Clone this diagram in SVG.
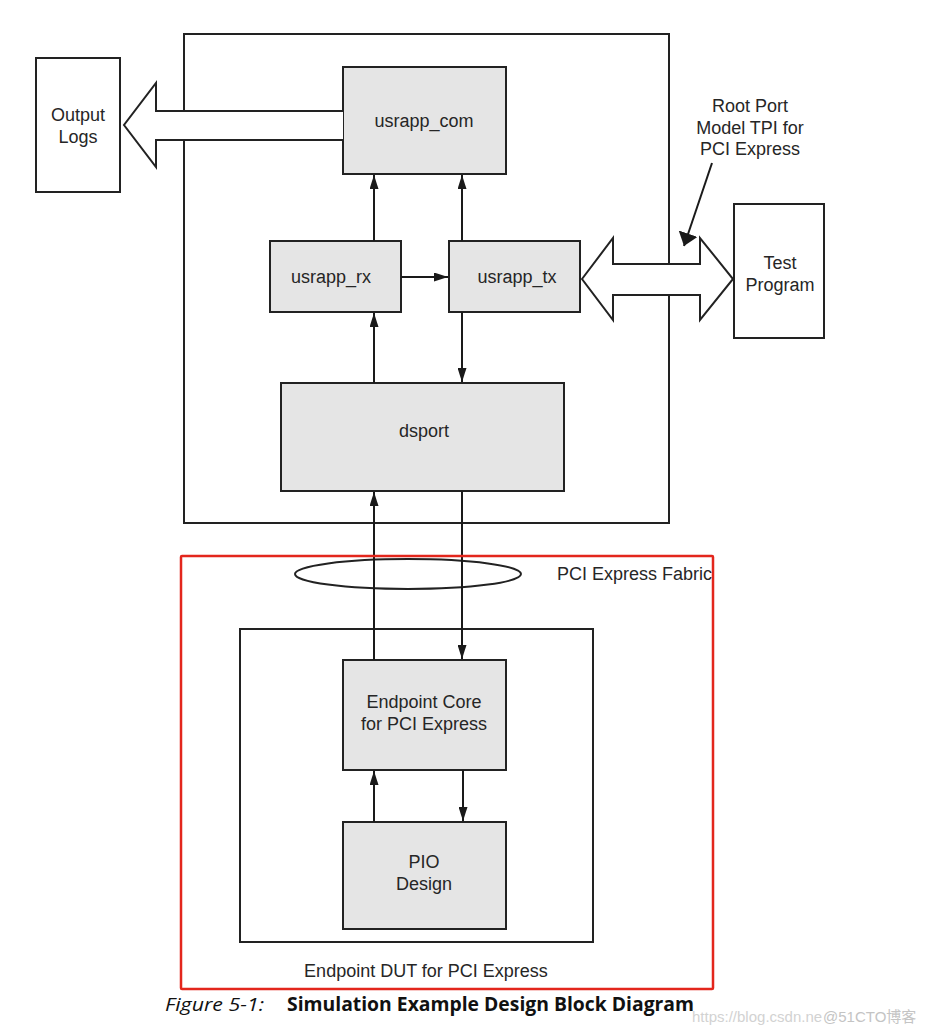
<svg xmlns="http://www.w3.org/2000/svg" width="932" height="1034" viewBox="0 0 932 1034">
<defs>
<marker id="ah" viewBox="0 0 10 10" refX="10" refY="5" markerWidth="14" markerHeight="9" markerUnits="userSpaceOnUse" orient="auto" preserveAspectRatio="none">
<path d="M0,0 L10,5 L0,10 Z" fill="#1a1a1a"/>
</marker>
<marker id="ah2" viewBox="0 0 10 10" refX="10" refY="5" markerWidth="13" markerHeight="20" markerUnits="userSpaceOnUse" orient="auto" preserveAspectRatio="none">
<path d="M0,0 L10,5 L0,10 Z" fill="#1a1a1a"/>
</marker>
<style>
.blk{fill:#e5e5e5;stroke:#222;stroke-width:2}
.box{fill:none;stroke:#222;stroke-width:2}
.wbox{fill:#fff;stroke:#222;stroke-width:2}
.t{font-family:"Liberation Sans",Arial,sans-serif;font-size:18px;fill:#262626;text-anchor:middle}
.tl{font-family:"Liberation Sans",Arial,sans-serif;font-size:18px;fill:#262626}
.ln{stroke:#1a1a1a;stroke-width:2;fill:none;marker-end:url(#ah)}
.big{fill:#fff;stroke:#222;stroke-width:2;stroke-linejoin:miter}
</style>
</defs>
<rect width="932" height="1034" fill="#fff"/>

<g id="root-port-model">
<rect class="box" x="184" y="34" width="485" height="489"/>
</g>

<g id="output-logs">
<rect class="wbox" x="36" y="58" width="84" height="134"/>
<text class="t" x="78" y="121">Output</text>
<text class="t" x="78" y="143">Logs</text>
</g>

<g id="test-program">
<rect class="wbox" x="734" y="204" width="90" height="134"/>
<text class="t" x="780" y="269">Test</text>
<text class="t" x="780" y="291">Program</text>
</g>

<g id="rp-label">
<text class="t" x="750" y="112">Root Port</text>
<text class="t" x="750" y="134">Model TPI for</text>
<text class="t" x="750" y="155">PCI Express</text>
</g>

<g id="usrapp_com">
<rect class="blk" x="343" y="67" width="163" height="107"/>
<text class="t" x="424" y="127">usrapp_com</text>
</g>

<g id="usrapp_rx">
<rect class="blk" x="270" y="241" width="131" height="71"/>
<text class="t" x="331" y="283">usrapp_rx</text>
</g>

<g id="usrapp_tx">
<rect class="blk" x="449" y="241" width="131" height="71"/>
<text class="t" x="517" y="283">usrapp_tx</text>
</g>

<g id="dsport">
<rect class="blk" x="281" y="383" width="283" height="108"/>
<text class="t" x="424" y="437">dsport</text>
</g>

<g id="fabric">
<ellipse cx="408" cy="574" rx="113" ry="15" fill="none" stroke="#222" stroke-width="2"/>
<text class="tl" x="557" y="580">PCI Express Fabric</text>
</g>

<g id="endpoint-dut">
<rect class="box" x="240" y="629" width="353" height="313"/>
<text class="t" x="426" y="977">Endpoint DUT for PCI Express</text>
</g>

<g id="endpoint-core">
<rect class="blk" x="343" y="660" width="163" height="110"/>
<text class="t" x="424" y="708">Endpoint Core</text>
<text class="t" x="424" y="730">for PCI Express</text>
</g>

<g id="pio-design">
<rect class="blk" x="343" y="822" width="163" height="107"/>
<text class="t" x="424" y="868">PIO</text>
<text class="t" x="424" y="890">Design</text>
</g>

<g id="connectors">
<path class="big" d="M343,111 L156,111 L156,83 L124,125 L156,167 L156,140 L343,140"/>
<path class="big" d="M582,279 L613,238 L613,264 L700,264 L700,238 L733,279 L700,320 L700,295 L613,295 L613,320 Z"/>
<line x1="712" y1="163" x2="684" y2="246" stroke="#1a1a1a" stroke-width="2" marker-end="url(#ah2)"/>
<line class="ln" x1="374" y1="241" x2="374" y2="175"/>
<line class="ln" x1="462" y1="241" x2="462" y2="175"/>
<line class="ln" x1="401" y1="277" x2="448" y2="277"/>
<line class="ln" x1="374" y1="383" x2="374" y2="313"/>
<line class="ln" x1="462" y1="312" x2="462" y2="382"/>
<line class="ln" x1="374" y1="660" x2="374" y2="492"/>
<line class="ln" x1="462" y1="491" x2="462" y2="659"/>
<line class="ln" x1="374" y1="822" x2="374" y2="771"/>
<line class="ln" x1="463" y1="770" x2="463" y2="821"/>
</g>

<g id="highlight">
<rect x="181" y="556" width="532" height="433" fill="none" stroke="#e3261c" stroke-width="2.5" rx="1"/>
</g>

<g id="caption">
<text x="165" y="1011" font-family="'Open Sans','Liberation Sans',sans-serif" font-style="italic" font-size="19" fill="#111" textLength="99" lengthAdjust="spacingAndGlyphs">Figure 5-1:</text>
<text x="287" y="1011" font-family="'Open Sans','Liberation Sans',sans-serif" font-weight="bold" font-size="19" fill="#111" textLength="407" lengthAdjust="spacingAndGlyphs">Simulation Example Design Block Diagram</text>
</g>

<g id="watermark">
<text x="692" y="1022" font-family="'Liberation Sans',sans-serif" font-size="15" fill="#d2d2d2">https://blog.csdn.ne</text>
<text x="823" y="1022" font-family="'Liberation Sans','Noto Sans CJK SC',sans-serif" font-size="15" fill="#c4c4c4">@51CTO博客</text>
</g>
</svg>
